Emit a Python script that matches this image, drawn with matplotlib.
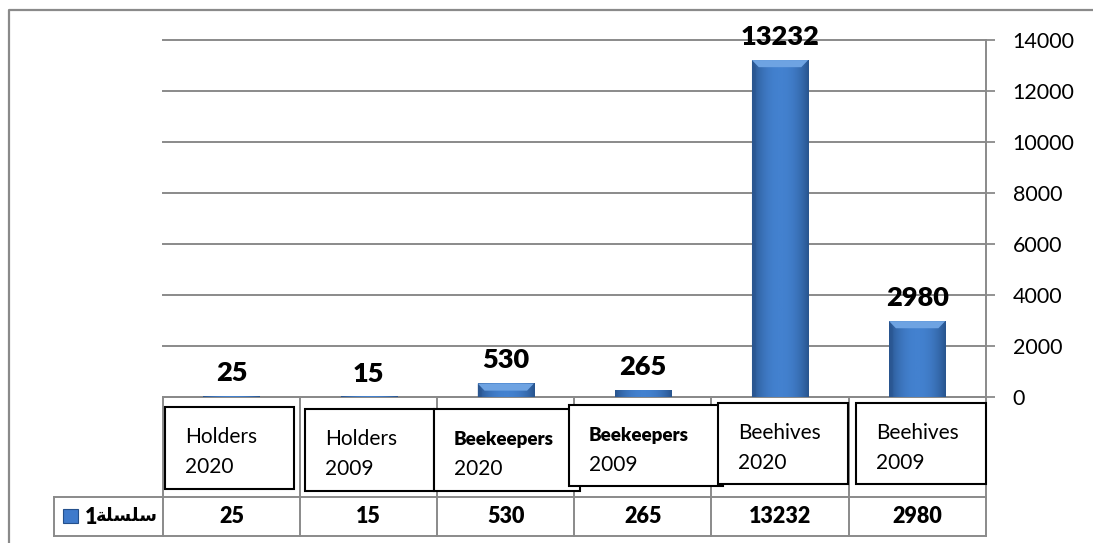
import numpy as np
import matplotlib.pyplot as plt
from matplotlib.patches import Rectangle, Polygon
from matplotlib.colors import LinearSegmentedColormap

categories = ['Holders 2020', 'Holders 2009', 'Beekeepers 2020',
              'Beekeepers 2009', 'Beehives 2020', 'Beehives 2009']
values = [25, 15, 530, 265, 13232, 2980]
yticks = [0, 2000, 4000, 6000, 8000, 10000, 12000, 14000]
# "سلسلة1" written with presentation forms so it shows joined, right to left
series_name = '1' + '\ufe94\ufee0\ufeb4\ufee0\ufeb3'

W, H = 1093, 543
FONT = ['Lato', 'DejaVu Sans']
GRID = '#8a8a8a'
plt.rcParams['font.family'] = FONT

fig = plt.figure(figsize=(W / 100, H / 100), dpi=100)


def fx(px):
    return px / W


def fy(py):
    return 1 - py / H


ax = fig.add_axes([fx(163), fy(397), fx(985.7) - fx(163), (397 - 40.5) / H])
x = np.arange(len(values))

# bars with a soft horizontal gradient and a bevelled top
bars = ax.bar(x, values, width=0.41, color='#3a72bd', zorder=3)
cmap = LinearSegmentedColormap.from_list('bar', ['#29558f', '#4381cf'])
t = np.linspace(-1, 1, 64)
grad = (1 - np.abs(t) ** 2.2)[None, :]
bev_dy, bev_dx = 280, 0.05
for b in bars:
    x0, w, h = b.get_x(), b.get_width(), b.get_height()
    ax.imshow(grad, extent=[x0, x0 + w, 0, h], aspect='auto', cmap=cmap,
              zorder=3.1, clip_path=b, clip_on=True)
    if h > bev_dy:
        ax.add_patch(Polygon([[x0, h], [x0 + w, h], [x0 + w - bev_dx, h - bev_dy],
                              [x0 + bev_dx, h - bev_dy]], closed=True,
                             fc='#6ea3e2', ec='none', zorder=3.2))
        ax.add_patch(Polygon([[x0, 0], [x0 + bev_dx * 0.6, 0], [x0 + bev_dx * 0.6, h - bev_dy],
                              [x0, h]], closed=True, fc='#2a5590', ec='none',
                             alpha=0.5, zorder=3.2))

for xi, v in zip(x, values):
    ax.annotate(str(v), (xi, v), xytext=(0, 8), textcoords='offset points',
                ha='center', va='bottom', fontsize=19.5, fontweight='heavy', zorder=5)

ax.set_xlim(-0.5, len(values) - 0.5)
ax.set_ylim(0, 14000)
ax.set_yticks(yticks)
ax.yaxis.tick_right()
ax.tick_params(axis='y', direction='out', length=6.5, width=1.3, color=GRID,
               pad=13, labelsize=15.5)
ax.tick_params(axis='x', bottom=False, labelbottom=False)
for s in ['left', 'top', 'bottom']:
    ax.spines[s].set_visible(False)
ax.spines['right'].set_color(GRID)
ax.spines['right'].set_linewidth(1.4)
ax.grid(axis='y', color=GRID, lw=1.4, zorder=0)
for gl in ax.get_ygridlines():
    gl.set_clip_on(False)

# data table under the plot
tr = ax.get_xaxis_transform()
y_head = (397 - 497) / (397 - 40.5)
y_bot = (397 - 536) / (397 - 40.5)
y_num = (397 - 516.5) / (397 - 40.5)
x_left = -0.5 - (163 - 54) / 137.1
edges = np.arange(len(values) + 1) - 0.5
ax.plot([edges[0], edges[-1]], [0, 0], transform=tr, color=GRID, lw=1.4, clip_on=False)
for yy in (y_head, y_bot):
    ax.plot([x_left, edges[-1]], [yy, yy], transform=tr, color=GRID, lw=1.4, clip_on=False)
for e in edges:
    ax.plot([e, e], [0, y_bot], transform=tr, color=GRID, lw=1.4, clip_on=False)
ax.plot([x_left, x_left], [y_head, y_bot], transform=tr, color=GRID, lw=1.4, clip_on=False)
for xi, v in zip(x, values):
    ax.text(xi, y_num, str(v), transform=tr, ha='center', va='center',
            fontsize=15.5, fontweight='heavy')

# series key in the first column
fig.add_artist(Rectangle((fx(63), fy(523)), fx(78) - fx(63), (523 - 509) / H,
                         transform=fig.transFigure, fc='#3f7acb', ec='#24508c', lw=0.8))
fig.text(fx(85), fy(517), series_name[0], ha='left', va='center', fontsize=15.5,
         fontweight='heavy')
fig.text(fx(96), fy(516), series_name[1:], ha='left', va='center', fontsize=13,
         fontweight='bold', family=['DejaVu Sans'])

# framed category labels
boxes = [
    (165, 407, 294, 489), (305, 409, 434, 491), (434, 409, 580, 491),
    (569, 405, 723, 486), (718, 403, 848, 484), (856, 403, 986, 484),
]
for (l, tp, r, bt), cat in zip(boxes, categories):
    fig.add_artist(Rectangle((fx(l), fy(bt)), fx(r) - fx(l), (bt - tp) / H,
                             transform=fig.transFigure, fc='white', ec='black',
                             lw=1.5, zorder=6))
    name, year = cat.split()
    bold = name == 'Beekeepers'
    fig.text(fx(l + 20), fy(tp + 30), name, ha='left', va='center',
             fontsize=13.5 if bold else 15, fontweight='heavy' if bold else 'normal',
             zorder=7)
    fig.text(fx(l + 20), fy(tp + 60), year, ha='left', va='center',
             fontsize=15, zorder=7)

# chart frame
fig.add_artist(plt.Line2D([fx(9), fx(9), 1], [0, fy(10), fy(10)],
                          transform=fig.transFigure, color=GRID, lw=1.6))

fig.savefig('out.png', dpi=100)
